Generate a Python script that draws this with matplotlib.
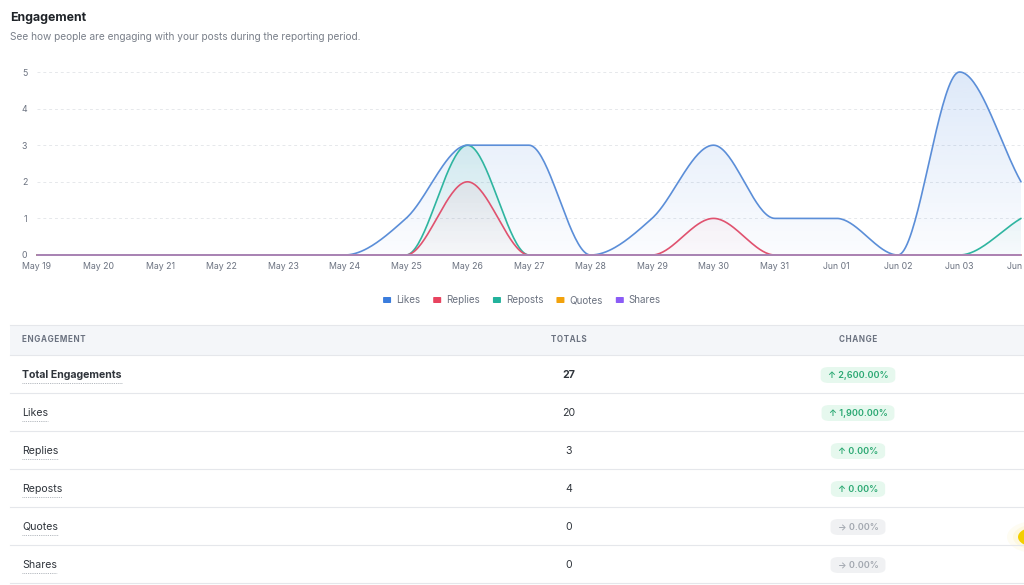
import numpy as np
import matplotlib
matplotlib.use("Agg")
import matplotlib.pyplot as plt
from matplotlib.patches import PathPatch, FancyBboxPatch, Rectangle, Circle
from matplotlib.lines import Line2D
import matplotlib.colors as mcolors

W, H = 1024, 585

# ---- data ----
dates = ["May 19", "May 20", "May 21", "May 22", "May 23", "May 24", "May 25",
         "May 26", "May 27", "May 28", "May 29", "May 30", "May 31", "Jun 01",
         "Jun 02", "Jun 03", "Jun 04"]
likes = [0, 0, 0, 0, 0, 0, 1, 3, 3, 0, 1, 3, 1, 1, 0, 5, 2]
replies = [0, 0, 0, 0, 0, 0, 0, 2, 0, 0, 0, 1, 0, 0, 0, 0, 0]
reposts = [0, 0, 0, 0, 0, 0, 0, 3, 0, 0, 0, 0, 0, 0, 0, 0, 1]
quotes = [0] * 17
shares = [0] * 17

series_names = ["Likes", "Replies", "Reposts", "Quotes", "Shares"]
series_colors = ["#3b7ddd", "#e8435f", "#22b29c", "#f2a20c", "#8b5cf6"]
line_colors = ["#5b8ed8", "#e0526f", "#2fb5a0", "#f2a20c", "#a07fd0"]

row_labels = ["Total Engagements", "Likes", "Replies", "Reposts", "Quotes", "Shares"]
row_totals = ["27", "20", "3", "4", "0", "0"]
row_changes = ["2,600.00%", "1,900.00%", "0.00%", "0.00%", "0.00%", "0.00%"]
row_up = [True, True, True, True, False, False]

FONT = ["Inter", "DejaVu Sans"]
plt.rcParams["font.family"] = FONT


def px(x):
    return x / W


def py(y):
    return 1 - y / H


def monotone(xs, ys, n=40):
    """Monotone cubic curve like Chart.js cubicInterpolationMode='monotone'."""
    xs = np.asarray(xs, float)
    ys = np.asarray(ys, float)
    d = np.diff(ys) / np.diff(xs)
    m = np.zeros(len(xs))
    m[0], m[-1] = d[0], d[-1]
    for i in range(1, len(xs) - 1):
        if d[i - 1] == 0 or d[i] == 0 or np.sign(d[i - 1]) != np.sign(d[i]):
            m[i] = 0
        else:
            m[i] = (d[i - 1] + d[i]) / 2
    for i in range(len(d)):
        if d[i] == 0:
            m[i] = m[i + 1] = 0
            continue
        a, b = m[i] / d[i], m[i + 1] / d[i]
        tau = a * a + b * b
        if tau > 9:
            t = 3 / np.sqrt(tau)
            m[i] = a * t * d[i]
            m[i + 1] = b * t * d[i]
    out_x, out_y = [], []
    for i in range(len(d)):
        h = xs[i + 1] - xs[i]
        t = np.linspace(0, 1, n, endpoint=(i == len(d) - 1))
        h00 = 2 * t**3 - 3 * t**2 + 1
        h10 = t**3 - 2 * t**2 + t
        h01 = -2 * t**3 + 3 * t**2
        h11 = t**3 - t**2
        out_x.append(xs[i] + t * h)
        out_y.append(h00 * ys[i] + h10 * h * m[i] + h01 * ys[i + 1] + h11 * h * m[i + 1])
    return np.concatenate(out_x), np.concatenate(out_y)


def gradient_fill(ax, xs, ys, color, a_top, a_bot, z):
    poly = ax.fill_between(xs, ys, 0, color="none", lw=0)
    patch = PathPatch(poly.get_paths()[0], transform=ax.transData,
                      facecolor="none", edgecolor="none")
    ax.add_patch(patch)
    rgba = np.zeros((200, 1, 4))
    rgba[..., :3] = mcolors.to_rgb(color)
    rgba[..., 3] = np.linspace(a_top, a_bot, 200)[:, None]
    im = ax.imshow(rgba, extent=[0, len(dates) - 1, 0, 5], origin="upper",
                   aspect="auto", zorder=z, interpolation="bilinear")
    im.set_clip_path(patch)


fig = plt.figure(figsize=(W / 100, H / 100), dpi=100)
fig.patch.set_facecolor("white")

# title
fig.text(px(10), py(18), "Engagement", fontsize=8.9, fontweight="bold",
         color="#1f2328", va="center", ha="left")
fig.text(px(10), py(37), "See how people are engaging with your posts during the reporting period.",
         fontsize=7.3, color="#7a808a", va="center", ha="left")

# ---- chart ----
ax = fig.add_axes([px(37), py(255), px(1021) - px(37), py(72) - py(255)])
x = np.arange(len(dates))
all_series = [likes, replies, reposts, quotes, shares]

fills = [(0, 0.17, 0.02), (1, 0.14, 0.02), (2, 0.2, 0.02)]
for idx, a_top, a_bot in fills:
    sx, sy = monotone(x, all_series[idx])
    gradient_fill(ax, sx, sy, series_colors[idx], a_top, a_bot, 1 + idx * 0.1)

for idx in [2, 1, 0, 3, 4]:
    sx, sy = monotone(x, all_series[idx])
    ax.plot(sx, sy, color=line_colors[idx], lw=1.2, clip_on=False,
            zorder=3 + (0.5 if idx == 4 else 0), solid_capstyle="round")

for v in range(1, 6):
    ax.axhline(v, color="#e6e8eb", lw=0.7, ls=(0, (3, 3)), zorder=0.5,
               xmax=1.05, clip_on=False)

ax.set_xlim(0, len(dates) - 1)
ax.set_ylim(0, 5)
ax.set_xticks(x)
ax.set_xticklabels(dates)
ax.set_yticks(range(0, 6))
ax.tick_params(length=0, labelsize=6.3, labelcolor="#6b7280", pad=5)
ax.tick_params(axis="y", pad=7)
for s in ax.spines.values():
    s.set_visible(False)
ax.patch.set_alpha(0)

# ---- legend ----
renderer = fig.canvas.get_renderer()
leg_texts = []
widths = []
for name in series_names:
    t = fig.text(0, 0, name, fontsize=7.1, color="#6b7280", va="center")
    widths.append(t.get_window_extent(renderer).width)
    leg_texts.append(t)
box_w, gap, sep = 8, 5, 13
total = sum(box_w + gap + w for w in widths) + sep * (len(widths) - 1)
cx = 522 - total / 2
for name, col, t, w in zip(series_names, series_colors, leg_texts, widths):
    fig.add_artist(FancyBboxPatch((px(cx), py(303)), px(box_w), 6 / H,
                                  boxstyle="round,pad=0,rounding_size=0.001",
                                  facecolor=col, edgecolor="none"))
    t.set_position((px(cx + box_w + gap), py(300)))
    cx += box_w + gap + w + sep

# ---- table ----
fig.add_artist(Rectangle((px(10), py(355)), px(1024) - px(10), 30 / H,
                         facecolor="#f4f6f9", edgecolor="none"))
head_kw = dict(fontsize=5.8, fontweight="bold", color="#6b7280", va="center")
fig.text(px(22), py(339), "\u200a".join("ENGAGEMENT"), ha="left", **head_kw)
fig.text(px(569), py(339), "\u200a".join("TOTALS"), ha="center", **head_kw)
fig.text(px(858), py(339), "\u200a".join("CHANGE"), ha="center", **head_kw)

line_ys = [325, 355, 393, 431, 469, 507, 545, 583]
for ly in line_ys:
    fig.add_artist(Line2D([px(10), 1], [py(ly), py(ly)], color="#e5e7eb", lw=0.8))

for i, (lab, tot, chg, up) in enumerate(zip(row_labels, row_totals, row_changes, row_up)):
    yc = 375 + 38 * i
    bold = "bold" if i == 0 else "normal"
    t = fig.text(px(22), py(yc), lab, fontsize=7.6, fontweight=bold,
                 color="#2f343b", va="center", ha="left")
    bb = t.get_window_extent(renderer)
    fig.add_artist(Line2D([px(bb.x0), px(bb.x1)], [py(yc + 7.5), py(yc + 7.5)],
                          color="#9aa0a8", lw=0.6, ls=(0, (1, 1.2))))
    fig.text(px(569), py(yc), tot, fontsize=7.6, fontweight=bold,
             color="#2f343b", va="center", ha="center")
    if up:
        txt, fg, bg = "\u2191 " + chg, "#2aa872", "#e6f8ee"
    else:
        txt, fg, bg = "\u2192 " + chg, "#a3a8b0", "#f0f1f3"
    bt = fig.text(px(858), py(yc), txt, fontsize=6.5, fontweight="semibold",
                  color=fg, va="center", ha="center", zorder=5)
    bw = bt.get_window_extent(renderer).width + 14
    fig.add_artist(FancyBboxPatch((px(858 - bw / 2), py(yc + 8)), px(bw), 16 / H,
                                  boxstyle="round,pad=0,rounding_size=0.008",
                                  facecolor=bg, edgecolor="none", zorder=4))

# floating widget at the right edge
for r, a in [(28, 0.05), (22, 0.08)]:
    fig.add_artist(Circle((px(1035), py(537)), r / W, facecolor="#f7d000",
                          alpha=a, edgecolor="none"))
fig.add_artist(Circle((px(1035), py(537)), 17 / W, facecolor="#f3cf00",
                      edgecolor="none"))

fig.savefig("out.png", dpi=100)
